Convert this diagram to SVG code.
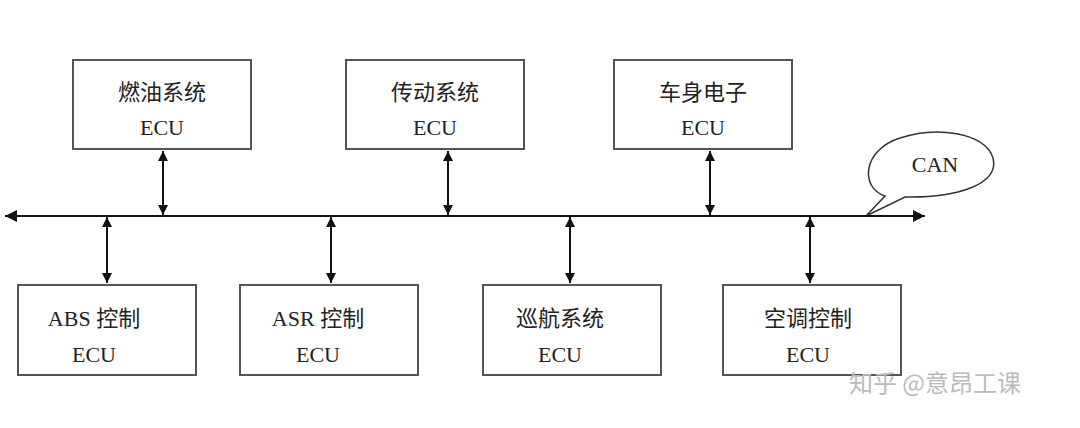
<svg xmlns="http://www.w3.org/2000/svg" width="1080" height="428" viewBox="0 0 1080 428">
<defs>
<marker id="ah" viewBox="0 0 10 10" refX="10" refY="5" markerWidth="10" markerHeight="10" markerUnits="userSpaceOnUse" orient="auto-start-reverse"><path d="M0,0 L10,5 L0,10 z" fill="#111"/></marker>
<marker id="ab" viewBox="0 0 10 10" refX="10" refY="5" markerWidth="14" markerHeight="12" markerUnits="userSpaceOnUse" orient="auto-start-reverse"><path d="M0,0 L10,5 L0,10 z" fill="#111"/></marker>
</defs>
<style>
rect{fill:#fff;stroke:#555;stroke-width:2}
text{font-family:"Liberation Serif","Noto Sans CJK SC",serif;font-size:22px;fill:#222;text-anchor:middle}
.l{stroke:#111;stroke-width:2;fill:none}
</style>
<rect x="0" y="0" width="1080" height="428" style="stroke:none"/>
<g id="n1"><rect x="73" y="60" width="178" height="89"/><text x="162" y="100">燃油系统</text><text x="162" y="135">ECU</text></g>
<g id="n2"><rect x="346" y="60" width="178" height="89"/><text x="435" y="100">传动系统</text><text x="435" y="135">ECU</text></g>
<g id="n3"><rect x="614" y="60" width="178" height="89"/><text x="703" y="100">车身电子</text><text x="703" y="135">ECU</text></g>
<g id="n4"><rect x="18" y="285" width="178" height="90"/><text x="94" y="326">ABS 控制</text><text x="94" y="362">ECU</text></g>
<g id="n5"><rect x="240" y="285" width="178" height="90"/><text x="318" y="326">ASR 控制</text><text x="318" y="362">ECU</text></g>
<g id="n6"><rect x="483" y="285" width="178" height="90"/><text x="560" y="326">巡航系统</text><text x="560" y="362">ECU</text></g>
<g id="n7"><rect x="723" y="285" width="178" height="90"/><text x="808" y="326">空调控制</text><text x="808" y="362">ECU</text></g>
<g id="can"><path d="M866,216 L885,196 C860,188 862,150 900,138 C935,126 985,132 993,158 C1000,185 955,198 905,197 Z" style="fill:#fff;stroke:#333;stroke-width:1.5"/><text x="935" y="172">CAN</text></g>
<g id="connectors">
<line class="l" x1="5" y1="216" x2="925" y2="216" marker-start="url(#ab)" marker-end="url(#ab)"/>
<line class="l" x1="163" y1="151" x2="163" y2="215" marker-start="url(#ah)" marker-end="url(#ah)"/>
<line class="l" x1="448" y1="151" x2="448" y2="215" marker-start="url(#ah)" marker-end="url(#ah)"/>
<line class="l" x1="710" y1="151" x2="710" y2="215" marker-start="url(#ah)" marker-end="url(#ah)"/>
<line class="l" x1="107" y1="217" x2="107" y2="283" marker-start="url(#ah)" marker-end="url(#ah)"/>
<line class="l" x1="331" y1="217" x2="331" y2="283" marker-start="url(#ah)" marker-end="url(#ah)"/>
<line class="l" x1="570" y1="217" x2="570" y2="283" marker-start="url(#ah)" marker-end="url(#ah)"/>
<line class="l" x1="810" y1="217" x2="810" y2="283" marker-start="url(#ah)" marker-end="url(#ah)"/>
</g>
<text x="935" y="392" style="font-family:'Noto Sans CJK SC',sans-serif;font-size:24px;fill:#bbb">知乎 @意昂工课</text>
</svg>
